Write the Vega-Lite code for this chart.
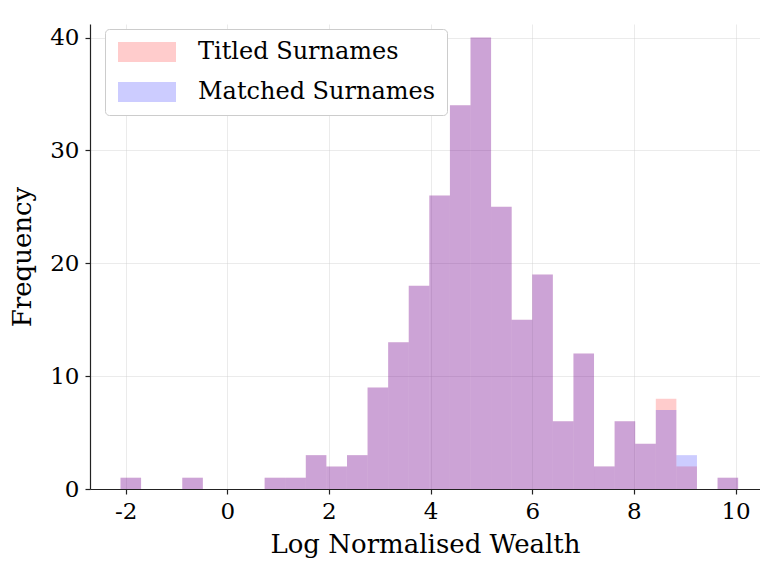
{
  "$schema": "https://vega.github.io/schema/vega-lite/v6.json",
  "width": 670,
  "height": 465,
  "autosize": {"type": "none"},
  "padding": {"left": 90, "top": 24, "right": 0, "bottom": 74},
  "background": "white",
  "config": {
    "view": {"stroke": null},
    "font": "DejaVu Serif",
    "axis": {
      "labelFont": "DejaVu Serif",
      "titleFont": "DejaVu Serif",
      "labelFontSize": 23,
      "titleFontSize": 26,
      "titleFontWeight": "normal",
      "labelColor": "#000000",
      "titleColor": "#000000",
      "domainColor": "#222222",
      "domainWidth": 1.2,
      "tickColor": "#222222",
      "tickSize": 5,
      "tickWidth": 1.2,
      "gridColor": "#cccccc",
      "gridOpacity": 0.4,
      "gridWidth": 1,
      "zindex": 1
    },
    "legend": {
      "labelFont": "DejaVu Serif",
      "labelFontSize": 24,
      "labelColor": "#000000"
    }
  },
  "data": {
    "values": [
      {"series": "Titled Surnames", "bin_start": -2.1, "bin_end": -1.695, "count": 1},
      {"series": "Titled Surnames", "bin_start": -0.885, "bin_end": -0.48, "count": 1},
      {"series": "Titled Surnames", "bin_start": 0.735, "bin_end": 1.14, "count": 1},
      {"series": "Titled Surnames", "bin_start": 1.14, "bin_end": 1.545, "count": 1},
      {"series": "Titled Surnames", "bin_start": 1.545, "bin_end": 1.95, "count": 3},
      {"series": "Titled Surnames", "bin_start": 1.95, "bin_end": 2.355, "count": 2},
      {"series": "Titled Surnames", "bin_start": 2.355, "bin_end": 2.76, "count": 3},
      {"series": "Titled Surnames", "bin_start": 2.76, "bin_end": 3.165, "count": 9},
      {"series": "Titled Surnames", "bin_start": 3.165, "bin_end": 3.57, "count": 13},
      {"series": "Titled Surnames", "bin_start": 3.57, "bin_end": 3.975, "count": 18},
      {"series": "Titled Surnames", "bin_start": 3.975, "bin_end": 4.38, "count": 26},
      {"series": "Titled Surnames", "bin_start": 4.38, "bin_end": 4.785, "count": 34},
      {"series": "Titled Surnames", "bin_start": 4.785, "bin_end": 5.19, "count": 40},
      {"series": "Titled Surnames", "bin_start": 5.19, "bin_end": 5.595, "count": 25},
      {"series": "Titled Surnames", "bin_start": 5.595, "bin_end": 6.0, "count": 15},
      {"series": "Titled Surnames", "bin_start": 6.0, "bin_end": 6.405, "count": 19},
      {"series": "Titled Surnames", "bin_start": 6.405, "bin_end": 6.81, "count": 6},
      {"series": "Titled Surnames", "bin_start": 6.81, "bin_end": 7.215, "count": 12},
      {"series": "Titled Surnames", "bin_start": 7.215, "bin_end": 7.62, "count": 2},
      {"series": "Titled Surnames", "bin_start": 7.62, "bin_end": 8.025, "count": 6},
      {"series": "Titled Surnames", "bin_start": 8.025, "bin_end": 8.43, "count": 4},
      {"series": "Titled Surnames", "bin_start": 8.43, "bin_end": 8.835, "count": 8},
      {"series": "Titled Surnames", "bin_start": 8.835, "bin_end": 9.24, "count": 2},
      {"series": "Titled Surnames", "bin_start": 9.645, "bin_end": 10.05, "count": 1},
      {"series": "Matched Surnames", "bin_start": -2.1, "bin_end": -1.695, "count": 1},
      {"series": "Matched Surnames", "bin_start": -0.885, "bin_end": -0.48, "count": 1},
      {"series": "Matched Surnames", "bin_start": 0.735, "bin_end": 1.14, "count": 1},
      {"series": "Matched Surnames", "bin_start": 1.14, "bin_end": 1.545, "count": 1},
      {"series": "Matched Surnames", "bin_start": 1.545, "bin_end": 1.95, "count": 3},
      {"series": "Matched Surnames", "bin_start": 1.95, "bin_end": 2.355, "count": 2},
      {"series": "Matched Surnames", "bin_start": 2.355, "bin_end": 2.76, "count": 3},
      {"series": "Matched Surnames", "bin_start": 2.76, "bin_end": 3.165, "count": 9},
      {"series": "Matched Surnames", "bin_start": 3.165, "bin_end": 3.57, "count": 13},
      {"series": "Matched Surnames", "bin_start": 3.57, "bin_end": 3.975, "count": 18},
      {"series": "Matched Surnames", "bin_start": 3.975, "bin_end": 4.38, "count": 26},
      {"series": "Matched Surnames", "bin_start": 4.38, "bin_end": 4.785, "count": 34},
      {"series": "Matched Surnames", "bin_start": 4.785, "bin_end": 5.19, "count": 40},
      {"series": "Matched Surnames", "bin_start": 5.19, "bin_end": 5.595, "count": 25},
      {"series": "Matched Surnames", "bin_start": 5.595, "bin_end": 6.0, "count": 15},
      {"series": "Matched Surnames", "bin_start": 6.0, "bin_end": 6.405, "count": 19},
      {"series": "Matched Surnames", "bin_start": 6.405, "bin_end": 6.81, "count": 6},
      {"series": "Matched Surnames", "bin_start": 6.81, "bin_end": 7.215, "count": 12},
      {"series": "Matched Surnames", "bin_start": 7.215, "bin_end": 7.62, "count": 2},
      {"series": "Matched Surnames", "bin_start": 7.62, "bin_end": 8.025, "count": 6},
      {"series": "Matched Surnames", "bin_start": 8.025, "bin_end": 8.43, "count": 4},
      {"series": "Matched Surnames", "bin_start": 8.43, "bin_end": 8.835, "count": 7},
      {"series": "Matched Surnames", "bin_start": 8.835, "bin_end": 9.24, "count": 3},
      {"series": "Matched Surnames", "bin_start": 9.645, "bin_end": 10.05, "count": 1}
    ]
  },
  "mark": {"type": "bar", "opacity": 0.2, "strokeWidth": 0, "clip": true},
  "encoding": {
    "x": {
      "field": "bin_start",
      "type": "quantitative",
      "scale": {"domain": [-2.7, 10.48], "nice": false, "zero": false},
      "axis": {
        "title": "Log Normalised Wealth",
        "values": [-2, 0, 2, 4, 6, 8, 10],
        "labelExpr": "replace(datum.label, '\u2212', '-')",
        "labelPadding": 6,
        "titlePadding": 8
      }
    },
    "x2": {"field": "bin_end"},
    "y": {
      "field": "count",
      "type": "quantitative",
      "stack": null,
      "scale": {"domain": [0, 41.2], "nice": false},
      "axis": {
        "title": "Frequency",
        "values": [0, 10, 20, 30, 40],
        "labelPadding": 6,
        "titlePadding": 14
      }
    },
    "y2": {"datum": 0},
    "color": {
      "field": "series",
      "type": "nominal",
      "sort": ["Titled Surnames", "Matched Surnames"],
      "scale": {"domain": ["Titled Surnames", "Matched Surnames"], "range": ["#ff0000", "#0000ff"]},
      "legend": {
        "title": null,
        "orient": "none",
        "legendX": 15,
        "legendY": 5,
        "symbolType": "M-1,-1H4.8V1H-1Z",
        "symbolSize": 400,
        "symbolOpacity": 0.2,
        "symbolStrokeWidth": 0,
        "labelOffset": 58,
        "labelLimit": 500,
        "padding": 11,
        "rowPadding": 16,
        "strokeColor": "#cccccc",
        "fillColor": "white",
        "cornerRadius": 4
      }
    },
    "order": {"field": "series", "sort": "descending"}
  }
}
